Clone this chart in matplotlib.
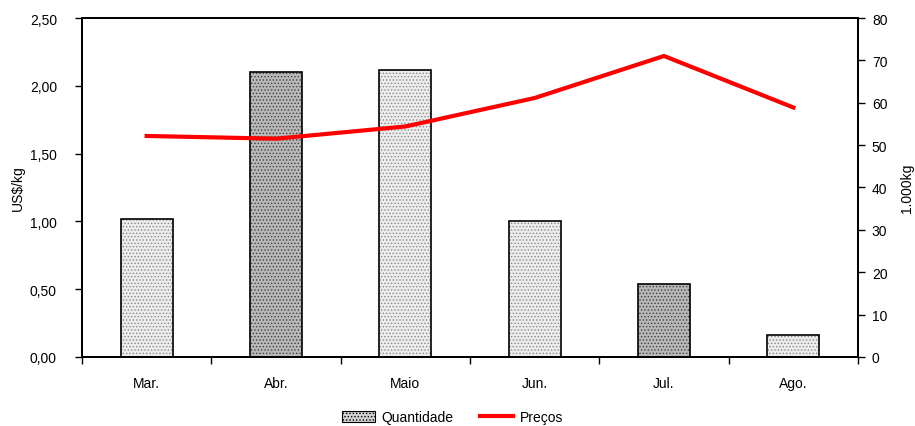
import matplotlib
matplotlib.use("Agg")
import matplotlib.pyplot as plt
from matplotlib.lines import Line2D
from matplotlib.patches import Patch
from matplotlib.ticker import FuncFormatter, MultipleLocator, FixedLocator
import numpy as np

plt.rcParams['font.family'] = ['Liberation Sans', 'DejaVu Sans']
plt.rcParams['font.size'] = 10
plt.rcParams['hatch.linewidth'] = 0.6

months = ["Mar.", "Abr.", "Maio", "Jun.", "Jul.", "Ago."]
quantidade = [32.6, 67.2, 67.7, 32.0, 17.2, 5.3]      # 1.000 kg
precos = [1.63, 1.61, 1.70, 1.91, 2.22, 1.84]          # US$/kg
dark_bar = [False, True, False, False, True, False]

fig = plt.figure(figsize=(9.15, 4.27), dpi=100)
ax = fig.add_axes([0.0896, 0.1616, 0.8481, 0.7939])
ax2 = ax.twinx()

x = np.arange(len(months))

# quantities as stippled bars on the right-hand axis
for xi, q, dk in zip(x, quantidade, dark_bar):
    face = '#b8b8b8' if dk else '#ececec'
    dots = '#404040' if dk else '#8a8a8a'
    ax2.bar(xi, q, width=0.4, color=face, edgecolor=dots, hatch='.....',
            linewidth=0, zorder=2)
    ax2.bar(xi, q, width=0.4, fill=False, edgecolor='black', linewidth=1.2,
            zorder=3)

# prices as a thick red line on the left-hand axis
ax.set_zorder(ax2.get_zorder() + 1)
ax.patch.set_visible(False)
ax.plot(x, precos, color='#ff0000', linewidth=3.0,
        solid_capstyle='projecting', zorder=5)

ax.set_xlim(-0.5, len(months) - 0.5)
ax.set_ylim(0, 2.5)
ax2.set_ylim(0, 80)

ax.yaxis.set_major_locator(MultipleLocator(0.5))
ax.yaxis.set_major_formatter(FuncFormatter(lambda v, p: f"{v:.2f}".replace('.', ',')))
ax2.yaxis.set_major_locator(MultipleLocator(10))

ax.set_xticks(x)
ax.set_xticklabels(months)
ax.xaxis.set_minor_locator(FixedLocator(np.arange(-0.5, len(months), 1.0)))
ax.tick_params(axis='x', which='major', length=0, pad=14)
ax.tick_params(axis='x', which='minor', length=5, width=1, direction='out')
ax.tick_params(axis='y', length=5, width=1, direction='out', pad=13)
ax2.tick_params(axis='y', length=5, width=1, direction='out', pad=5)

for a in (ax, ax2):
    for s in a.spines.values():
        s.set_linewidth(1.4)
        s.set_color('black')

ax.set_ylabel("US$/kg", labelpad=3.5)
ax2.set_ylabel("1.000kg", labelpad=9)

handles = [
    Patch(facecolor='#d0d0d0', edgecolor='black', hatch='.....', linewidth=0.8),
    Line2D([], [], color='#ff0000', linewidth=3.0),
]
fig.legend(handles, ["Quantidade", "Preços"], loc='center',
           bbox_to_anchor=(0.4945, 0.02), ncol=2, frameon=False,
           handlelength=2.4, handletextpad=0.45, columnspacing=1.9,
           handleheight=0.9)

fig.savefig("out.png", dpi=100)
